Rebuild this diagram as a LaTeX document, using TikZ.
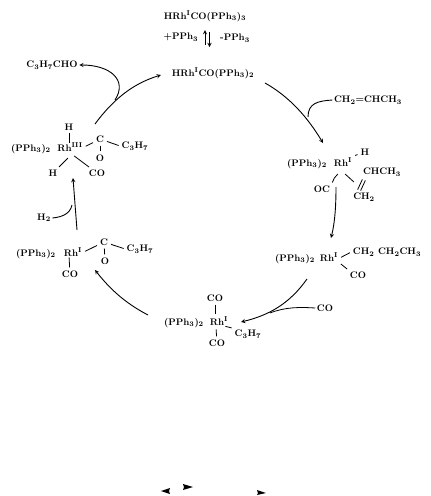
\documentclass[tikz,border=0pt]{standalone}
\usepackage{amsmath,amssymb}
\usepackage{tikz}
\tikzset{
  atom/.style={inner sep=1.5pt, font=\fontsize{9.5}{11}\selectfont\bfseries},
  bond/.style={line width=0.8pt, shorten >=1.5pt, shorten <=1.5pt},
  cyc/.style={->, >=stealth, line width=0.9pt},
  tiny tip/.style={fill=black, draw=none}
}
\newcommand{\subb}[1]{$_{\mathbf{#1}}$}
\newcommand{\ligand}{(PPh\subb{3})\subb{2}}
\newcommand{\propyl}{C\subb{3}H\subb{7}}
\newcommand{\rhsup}[1]{Rh$^{\mathbf{#1}}$}

\begin{document}
\begin{tikzpicture}[x=1pt,y=-1pt]
    \useasboundingbox (0,0) rectangle (431,496);

    % top of the cycle
    \node[atom] (rhtop) at (205,16) {HRh$^{\mathbf{I}}$CO(PPh\subb{3})\subb{3}};
    \node[atom] (plus) at (181,37) {+PPh\subb{3}};
    \node[atom] (minus) at (235,38) {-PPh\subb{3}};
    \node[atom] (hrh) at (213,73) {HRh$^{\mathbf{I}}$CO(PPh\subb{3})\subb{2}};
    \node[atom] (aldehyde) at (52,65) {\propyl CHO};
    \coordinate (upa) at (205,45);
    \coordinate (upb) at (205,30);
    \coordinate (downa) at (209.5,32);
    \coordinate (downb) at (209.5,47);
    \draw[cyc] (upa) -- (upb);
    \draw[cyc] (downa) -- (downb);

    % complex with olefin
    \node[atom] (liga) at (307,164) {\ligand};
    \node[atom] (rha) at (343,162) {\rhsup{I}};
    \node[atom] (ha) at (365,152) {H};
    \node[atom] (oca) at (322,189) {OC};
    \node[atom] (cha) at (382,172) {CHCH\subb{3}};
    \node[atom] (cma) at (364,197) {CH\subb{2}};
    \node[atom] (olefin) at (368,100) {CH\subb{2}=CHCH\subb{3}};
    \draw[bond] (rha.north east) -- (ha);
    \draw[bond] (344,173) -- (355,183);
    \draw[bond] (339,173) to[bend right=15] (oca.north east);
    \draw[bond] (363,178) -- (357,191);
    \draw[bond] (366,179) -- (360,192);

    % complex with propyl chain
    \node[atom] (ligb) at (295,259) {\ligand};
    \node[atom] (rhb) at (329,257) {\rhsup{I}};
    \node[atom] (chb) at (387,252) {CH\subb{2} CH\subb{2}CH\subb{3}};
    \node[atom] (cob) at (358,275) {CO};
    \draw[bond] (rhb.east) ++(0,1) -- (chb.west);
    \draw[bond] (rhb.south east) -- (cob.north west);

    % complex with three ligands
    \node[atom] (ligc) at (184,323) {\ligand};
    \node[atom] (rhc) at (219,321) {\rhsup{I}};
    \node[atom] (coc) at (215,298) {CO};
    \node[atom] (cod) at (217,343) {CO};
    \node[atom] (prc) at (248,334) {\propyl};
    \node[atom] (coe) at (325,308) {CO};
    \draw[bond] (coc) -- (215,315);
    \draw[bond] (216,328) -- (cod);
    \draw[bond] (224,326) -- (prc.north west);

    % acyl complex
    \node[atom] (ligd) at (36,254) {\ligand};
    \node[atom] (rhd) at (73,252) {\rhsup{I}};
    \node[atom] (cd) at (104,242) {C};
    \node[atom] (od) at (105,261) {O};
    \node[atom] (prd) at (140,249) {\propyl};
    \node[atom] (cof) at (70,274) {CO};
    \node[atom] (hh) at (44,218) {H\subb{2}};
    \draw[bond] (rhd.east) -- (cd);
    \draw[bond] (cd) -- (od);
    \draw[bond] (cd) -- (prd.west);
    \draw[bond] (69,256) -- (cof);

    % hydrido acyl complex
    \node[atom] (lige) at (31,149) {\ligand};
    \node[atom] (rhe) at (70,147) {\rhsup{III}};
    \node[atom] (he) at (69,127) {H};
    \node[atom] (hf) at (53,173) {H};
    \node[atom] (ce) at (100,139) {C};
    \node[atom] (oe) at (100,158) {O};
    \node[atom] (pre) at (135,146) {\propyl};
    \node[atom] (cog) at (97,173) {CO};
    \draw[bond] (he) -- (69,144);
    \draw[bond] (rhe.east) -- (ce);
    \draw[bond] (ce) -- (oe);
    \draw[bond] (ce) -- (pre.west);
    \draw[bond] (69,157) -- (hf);
    \draw[bond] (73,155) -- (cog);

    % the cycle
    \coordinate (ae) at (95,124);
    \coordinate (ah) at (161,75);
    \coordinate (be) at (265,83);
    \coordinate (bh) at (323,143);
    \coordinate (ce1) at (336,187);
    \coordinate (ch1) at (331,238);
    \coordinate (de) at (307,279);
    \coordinate (dh) at (241,322);
    \coordinate (ee) at (148,315);
    \coordinate (eh) at (95,270);
    \coordinate (fe) at (77,230);
    \coordinate (fh) at (73,178);
    \draw[cyc] (ae) .. controls (115,97) and (135,83) .. (ah);
    \draw[cyc] (be) .. controls (290,97) and (308,118) .. (bh);
    \draw[cyc] (ce1) .. controls (336,205) and (335,222) .. (ch1);
    \draw[cyc] (de) .. controls (290,303) and (270,315) .. (dh);
    \draw[cyc] (ee) .. controls (125,303) and (110,289) .. (eh);
    \draw[cyc] (fe) -- (fh);

    % side streams
    \coordinate (sa) at (115,100);
    \coordinate (sb) at (308,117);
    \coordinate (sc) at (270,313);
    \coordinate (sd) at (72,205);
    \draw[cyc] (sa) .. controls (128,80) and (110,65) .. (aldehyde.east);
    \draw[line width=0.9pt] (olefin.west) .. controls (318,101) and (308,103) .. (sb);
    \draw[line width=0.8pt] (coe.west) .. controls (300,307) and (285,307) .. (sc);
    \draw[line width=0.9pt] (hh.east) .. controls (62,217) and (70,214) .. (sd);

    % stray marks at the foot
    \fill[tiny tip] (161,491) -- (170,488) -- (169,491) -- (170,494) -- cycle;
    \fill[tiny tip] (183,484) -- (193,487) -- (183,490) -- (184,487) -- cycle;
    \fill[tiny tip] (257,490) -- (266,493) -- (257,495) -- (258,493) -- cycle;
  \end{tikzpicture}
\end{document}
